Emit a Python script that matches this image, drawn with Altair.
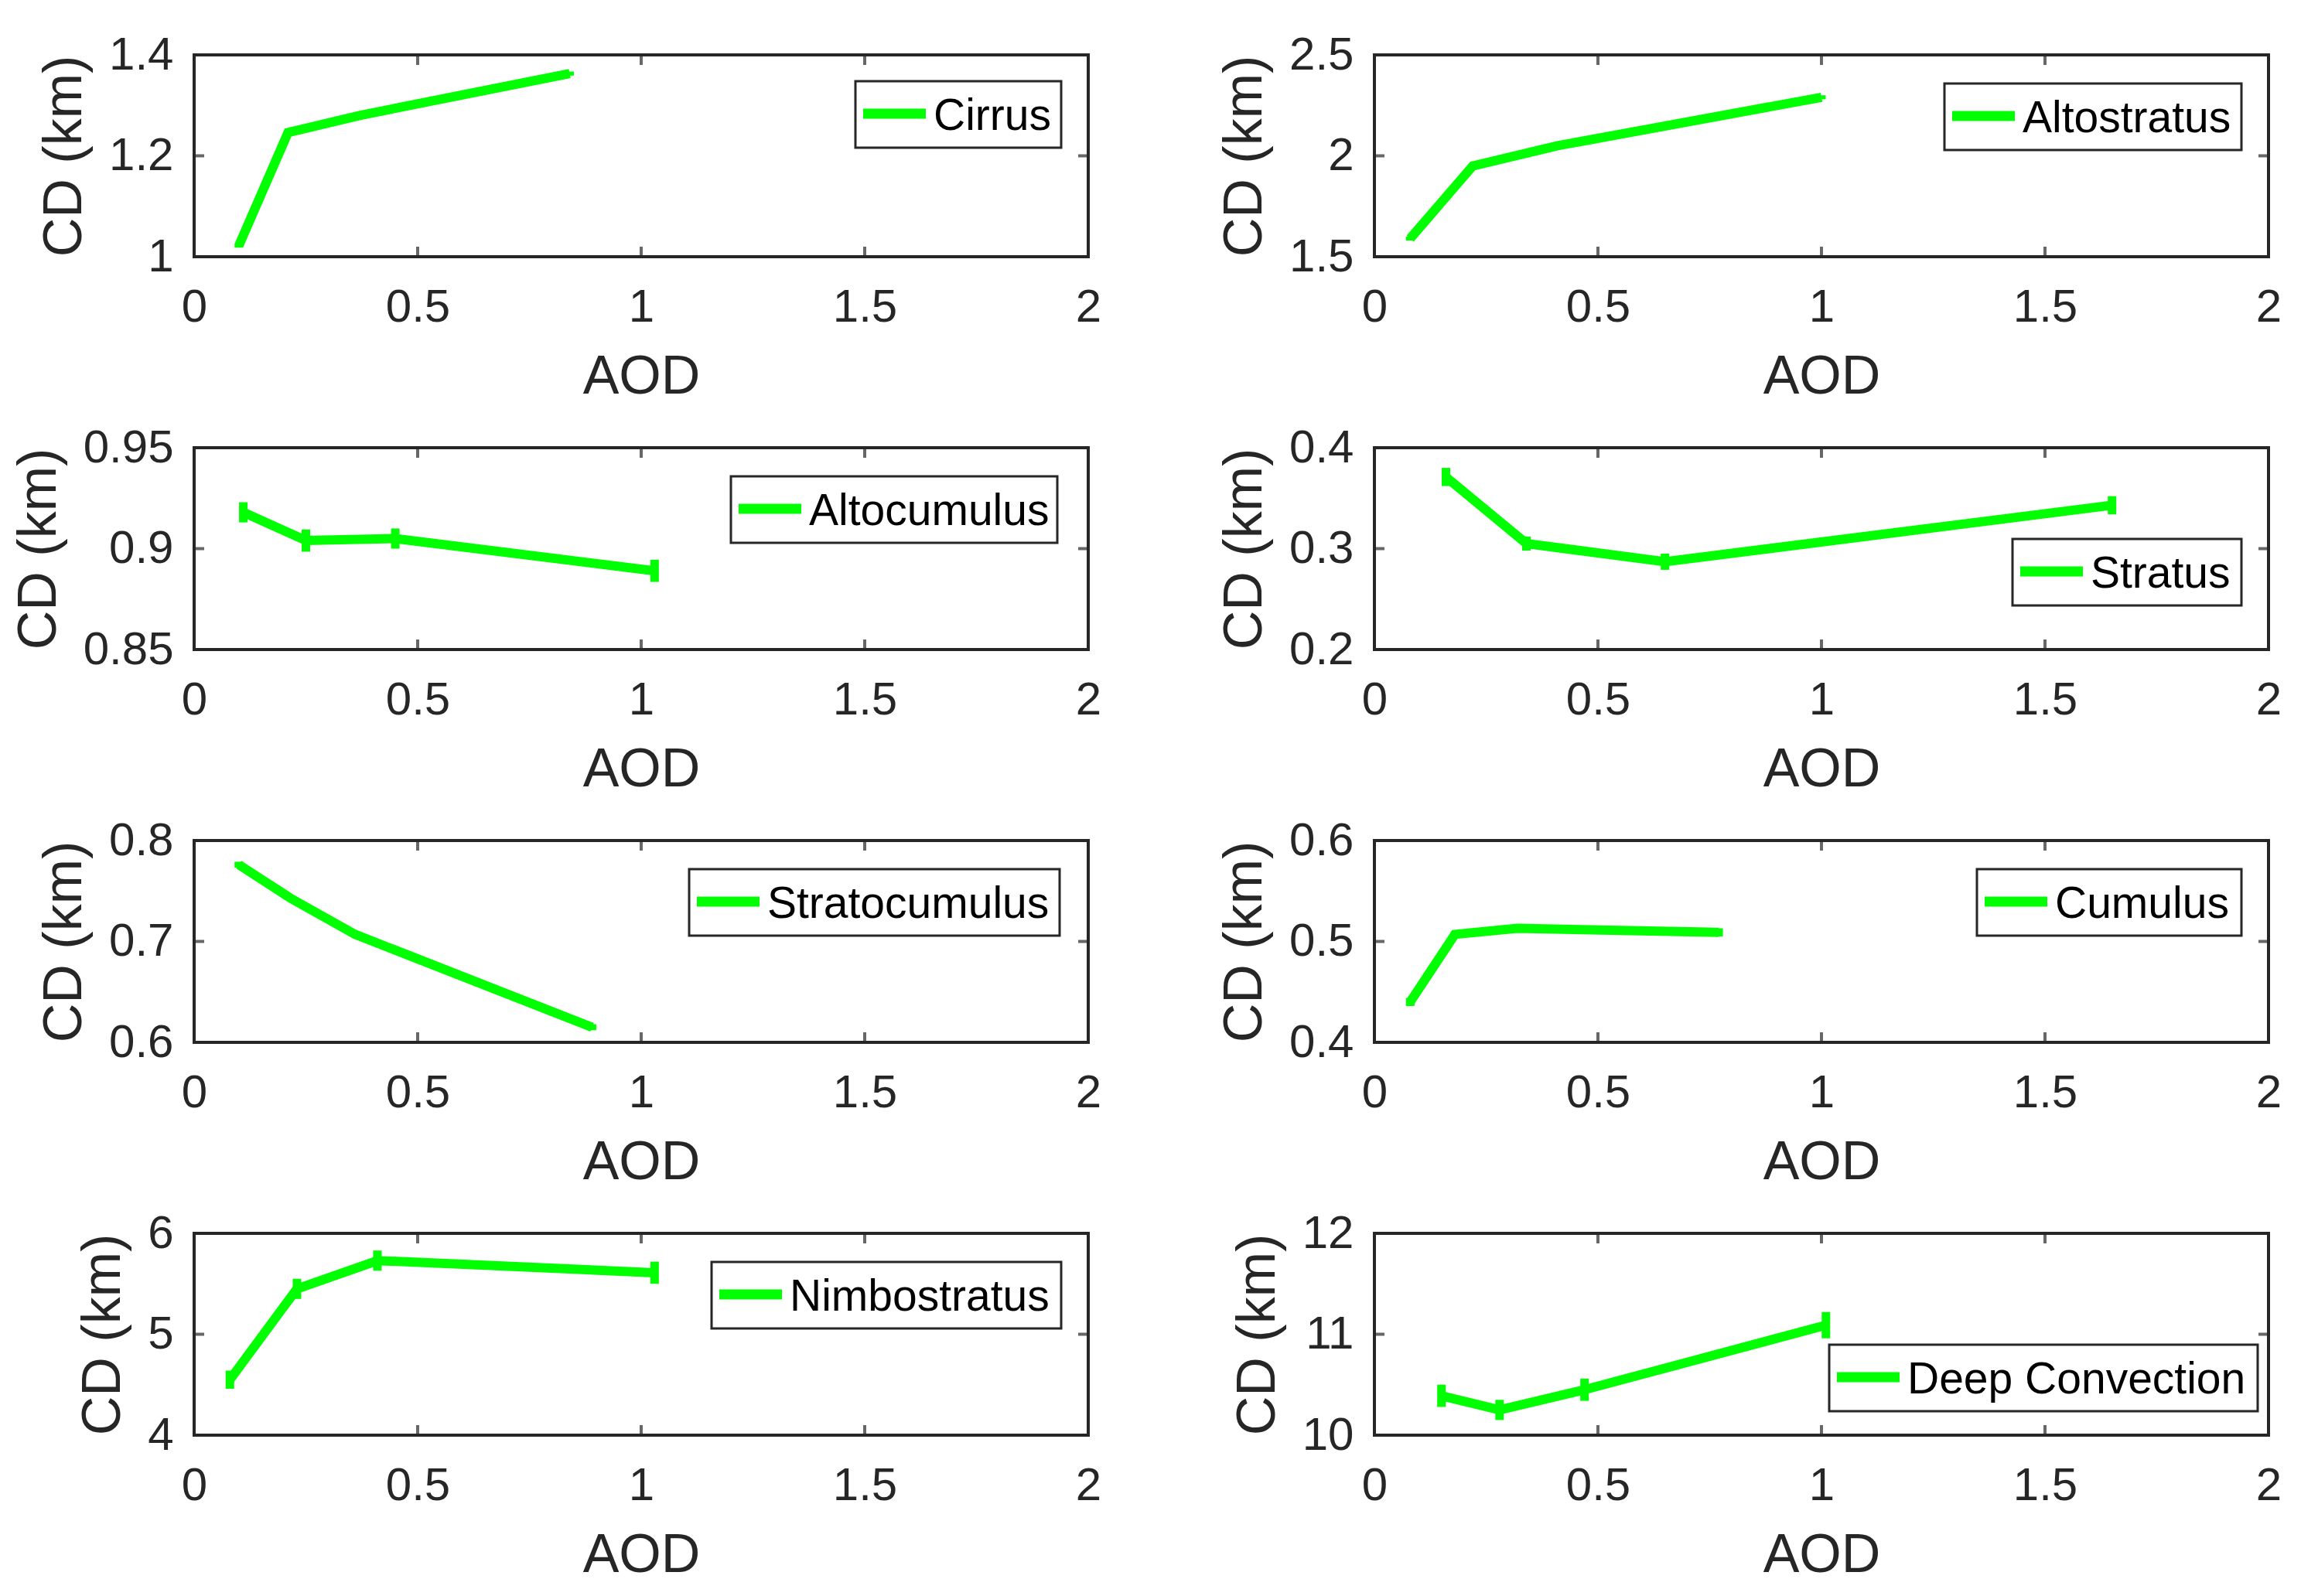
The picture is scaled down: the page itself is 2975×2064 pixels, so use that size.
import altair as alt
import pandas as pd

# --- data (AOD vs cloud depth, with error bars) ---
clouds = ["Cirrus", "Altostratus", "Altocumulus", "Stratus",
          "Stratocumulus", "Cumulus", "Nimbostratus", "Deep Convection"]

cirrus_aod = [0.10, 0.21, 0.37, 0.84]
cirrus_cd = [1.022, 1.246, 1.280, 1.363]
cirrus_err = [0.004, 0.004, 0.004, 0.004]

altostratus_aod = [0.08, 0.22, 0.41, 1.00]
altostratus_cd = [1.59, 1.95, 2.05, 2.29]
altostratus_err = [0.01, 0.01, 0.01, 0.01]

altocumulus_aod = [0.11, 0.25, 0.45, 1.03]
altocumulus_cd = [0.918, 0.904, 0.905, 0.889]
altocumulus_err = [0.005, 0.0055, 0.005, 0.0055]

stratus_aod = [0.16, 0.34, 0.65, 1.65]
stratus_cd = [0.371, 0.305, 0.287, 0.343]
stratus_err = [0.009, 0.007, 0.008, 0.009]

stratocumulus_aod = [0.10, 0.215, 0.36, 0.89]
stratocumulus_cd = [0.776, 0.743, 0.707, 0.615]
stratocumulus_err = [0.003, 0.002, 0.002, 0.003]

cumulus_aod = [0.08, 0.18, 0.32, 0.77]
cumulus_cd = [0.440, 0.507, 0.513, 0.509]
cumulus_err = [0.004, 0.003, 0.003, 0.004]

nimbostratus_aod = [0.08, 0.23, 0.41, 1.03]
nimbostratus_cd = [4.55, 5.45, 5.73, 5.61]
nimbostratus_err = [0.09, 0.10, 0.10, 0.11]

deep_aod = [0.15, 0.28, 0.47, 1.01]
deep_cd = [10.39, 10.25, 10.45, 11.09]
deep_err = [0.11, 0.10, 0.11, 0.13]

x_ticks = [0, 0.5, 1, 1.5, 2]
y_ticks = {
    "Cirrus": [1, 1.2, 1.4],
    "Altostratus": [1.5, 2, 2.5],
    "Altocumulus": [0.85, 0.9, 0.95],
    "Stratus": [0.2, 0.3, 0.4],
    "Stratocumulus": [0.6, 0.7, 0.8],
    "Cumulus": [0.4, 0.5, 0.6],
    "Nimbostratus": [4, 5, 6],
    "Deep Convection": [10, 11, 12],
}

series = {
    "Cirrus": (cirrus_aod, cirrus_cd, cirrus_err),
    "Altostratus": (altostratus_aod, altostratus_cd, altostratus_err),
    "Altocumulus": (altocumulus_aod, altocumulus_cd, altocumulus_err),
    "Stratus": (stratus_aod, stratus_cd, stratus_err),
    "Stratocumulus": (stratocumulus_aod, stratocumulus_cd, stratocumulus_err),
    "Cumulus": (cumulus_aod, cumulus_cd, cumulus_err),
    "Nimbostratus": (nimbostratus_aod, nimbostratus_cd, nimbostratus_err),
    "Deep Convection": (deep_aod, deep_cd, deep_err),
}

# legend box (left, top, width) in pixels from each plot's top-left corner
legend_box = {
    "Cirrus": (855, 34, 266),
    "Altostratus": (737, 37, 384),
    "Altocumulus": (694, 37, 422),
    "Stratus": (825, 118, 296),
    "Stratocumulus": (640, 37, 479),
    "Cumulus": (779, 37, 342),
    "Nimbostratus": (669, 37, 452),
    "Deep Convection": (588, 144, 554),
}

W, H = 1156, 261
GREEN = "#00ff00"
AXIS = "#262626"
TICK = 13
FONT = "Liberation Sans"


def make_panel(name):
    aod, cd, err = series[name]
    df = pd.DataFrame({"aod": aod, "cd": cd})
    df["lo"] = df["cd"] - pd.Series(err)
    df["hi"] = df["cd"] + pd.Series(err)
    yt = y_ticks[name]

    x_enc = alt.X("aod:Q", title="AOD",
                  scale=alt.Scale(domain=[0, 2], nice=False, zero=False),
                  axis=alt.Axis(values=x_ticks, format="~g"))
    y_enc = alt.Y("cd:Q", title="CD (km)",
                  scale=alt.Scale(domain=[yt[0], yt[-1]], nice=False, zero=False),
                  axis=alt.Axis(values=yt, format="~g"))

    line = alt.Chart(df).mark_line(strokeWidth=12, color=GREEN).encode(x=x_enc, y=y_enc)
    bars = alt.Chart(df).mark_rule(strokeWidth=11, color=GREEN).encode(
        x=x_enc, y=alt.Y("lo:Q"), y2="hi:Q"
    )

    # inward ticks on all four sides (MATLAB box style)
    xt = pd.DataFrame({"aod": x_ticks})
    yt_df = pd.DataFrame({"cd": yt})
    tick_style = dict(color=AXIS, thickness=4, size=TICK)
    xb = alt.Chart(xt).mark_tick(**tick_style).encode(x=x_enc, y=alt.value(H - TICK / 2))
    xtop = alt.Chart(xt).mark_tick(**tick_style).encode(x=x_enc, y=alt.value(TICK / 2))
    yl = alt.Chart(yt_df).mark_tick(**tick_style).encode(y=y_enc, x=alt.value(TICK / 2))
    yr = alt.Chart(yt_df).mark_tick(**tick_style).encode(y=y_enc, x=alt.value(W - TICK / 2))

    # legend box drawn by hand
    lx, ly, bw = legend_box[name]
    leg = alt.Chart(pd.DataFrame({"cloud": [name]}))
    box = leg.mark_rect(fill="white", stroke=AXIS, strokeWidth=3).encode(
        x=alt.value(lx), x2=alt.value(lx + bw), y=alt.value(ly), y2=alt.value(ly + 86)
    )
    swatch = leg.mark_rule(color=GREEN, strokeWidth=13).encode(
        x=alt.value(lx + 10), x2=alt.value(lx + 91), y=alt.value(ly + 42)
    )
    label = leg.mark_text(align="left", baseline="middle", font=FONT,
                          fontSize=57, color="black").encode(
        x=alt.value(lx + 101), y=alt.value(ly + 46), text="cloud:N"
    )

    return alt.layer(xb, xtop, yl, yr, bars, line, box, swatch, label).properties(
        width=W, height=H)


panels = [make_panel(c) for c in clouds]

chart = alt.concat(*panels, columns=2, spacing={"row": 23, "column": 146}).resolve_scale(
    x="independent", y="independent"
).properties(
    padding={"left": 5, "top": 31, "right": 0, "bottom": 0}
).configure_view(
    stroke=AXIS, strokeWidth=4
).configure_axis(
    domain=False, ticks=False, grid=False,
    labelFont=FONT, labelFontSize=60, labelColor=AXIS,
    titleFont=FONT, titleFontSize=70, titleFontWeight="normal",
    titleColor=AXIS, labelFlush=False, labelOverlap=False
).configure_axisX(
    labelPadding=36, titlePadding=26
).configure_axisY(
    labelPadding=27, titlePadding=21
)

chart.save("out.html", embed_options={"renderer": "svg", "actions": False})
